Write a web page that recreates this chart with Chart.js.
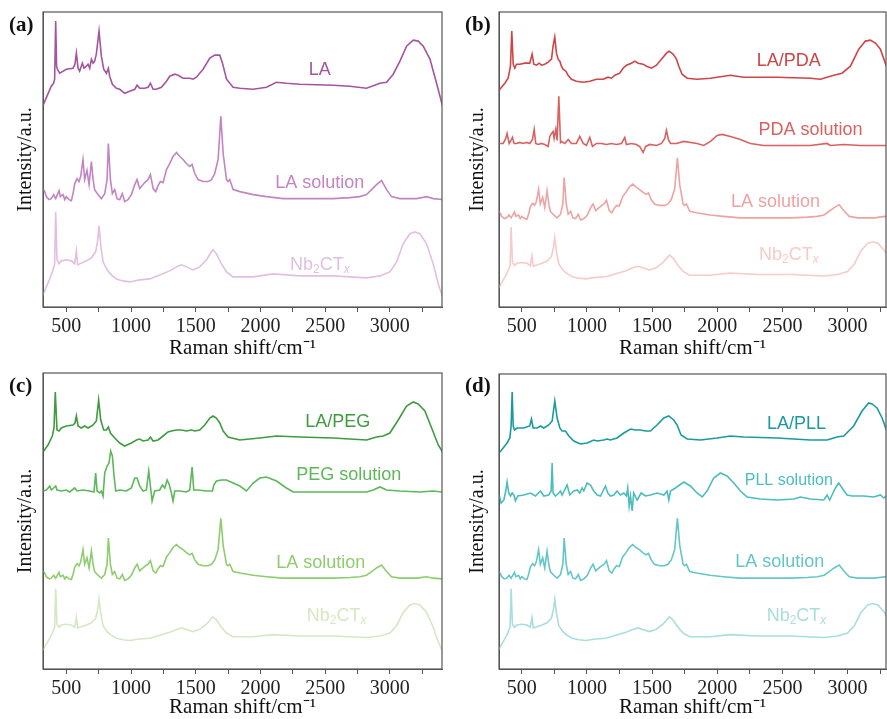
<!DOCTYPE html>
<html>
<head>
<meta charset="utf-8">
<title>Raman spectra</title>
<script src="https://cdn.jsdelivr.net/npm/chart.js@4.4.0/dist/chart.umd.min.js"></script>
<style>
  body { margin: 0; background: #fff; width: 887px; height: 719px; overflow: hidden; position: relative; }
  canvas { position: absolute; }
  .tag { position: absolute; font: bold 21px "Liberation Serif", "Times New Roman", serif; color: #111; }
</style>
</head>
<body>
<canvas id="pa" width="444" height="360" style="left:0;top:0"></canvas>
<canvas id="pb" width="443" height="360" style="left:444px;top:0"></canvas>
<canvas id="pc" width="444" height="359" style="left:0;top:360px"></canvas>
<canvas id="pd" width="443" height="359" style="left:444px;top:360px"></canvas>
<div class="tag" style="left:9px;top:12px">(a)</div>
<div class="tag" style="left:465px;top:12px">(b)</div>
<div class="tag" style="left:9px;top:373px">(c)</div>
<div class="tag" style="left:465px;top:373px">(d)</div>
<script>
// x axis ticks (Raman shift, cm-1); only multiples of 500 get a label
const tickValues = [500, 750, 1000, 1250, 1500, 1750, 2000, 2250, 2500, 2750, 3000, 3250];

// spectra: [Raman shift, intensity (a.u.)]
const LA = [[320,201],[384,220],[402,223],[410,227],[418,285],[425,240],[431,237],[449,233],[500,237],[552,238],[567,242],[578,253],[591,238],[603,235],[624,243],[637,238],[655,240],[668,242],[681,238],[694,247],[707,243],[719,245],[732,252],[753,275],[771,250],[789,237],[810,233],[825,238],[835,230],[856,222],[887,218],[913,217],[951,213],[990,215],[1029,217],[1047,221],[1067,218],[1106,218],[1132,219],[1150,223],[1171,217],[1196,217],[1235,219],[1274,225],[1299,230],[1338,232],[1364,231],[1402,228],[1454,228],[1480,227],[1505,229],[1557,237],[1609,248],[1647,251],[1686,251],[1707,243],[1738,227],[1789,219],[1841,218],[1944,217],[2047,219],[2124,224],[2201,223],[2305,222],[2562,221],[2691,220],[2820,218],[2923,223],[2975,224],[3026,232],[3078,245],[3129,260],[3181,266],[3219,265],[3258,260],[3310,247],[3361,223],[3408,200]];

const LA_SOL = [[320,118],[333,115],[346,110],[366,107],[384,108],[402,112],[418,108],[444,116],[454,110],[475,112],[488,107],[500,110],[521,107],[539,106],[552,113],[565,123],[583,128],[598,125],[611,130],[629,147],[642,127],[660,136],[676,122],[694,145],[707,127],[719,117],[745,112],[771,108],[797,113],[815,127],[825,163],[841,127],[856,113],[874,117],[892,108],[913,107],[933,113],[951,105],[977,107],[1003,112],[1029,122],[1047,127],[1067,118],[1093,122],[1114,125],[1132,127],[1150,132],[1171,118],[1191,115],[1209,121],[1227,125],[1248,124],[1274,137],[1299,143],[1325,150],[1351,154],[1377,150],[1402,147],[1428,143],[1454,140],[1472,142],[1493,133],[1518,127],[1557,125],[1596,125],[1622,127],[1647,133],[1673,147],[1694,190],[1712,153],[1738,127],[1750,125],[1763,127],[1789,117],[1841,115],[1944,112],[2047,110],[2176,108],[2305,108],[2562,108],[2691,109],[2768,110],[2820,112],[2859,117],[2897,122],[2936,126],[2975,117],[3013,110],[3078,108],[3207,108],[3284,110],[3335,108],[3408,107]];

const NB2CTX = [[320,12],[346,20],[372,28],[392,35],[410,43],[418,95],[428,47],[444,43],[462,46],[500,47],[539,46],[565,43],[578,56],[588,42],[603,43],[655,46],[694,49],[727,55],[743,67],[753,81],[766,62],[784,45],[815,37],[848,32],[887,28],[939,26],[990,25],[1067,27],[1145,28],[1222,32],[1299,36],[1351,40],[1390,42],[1428,40],[1480,37],[1531,40],[1583,47],[1622,55],[1634,57],[1660,53],[1699,43],[1738,35],[1789,30],[1944,30],[2098,33],[2305,31],[2562,31],[2820,29],[2923,31],[3000,35],[3052,45],[3103,63],[3155,73],[3194,75],[3232,73],[3284,63],[3335,43],[3374,23],[3408,10]];

const LA_PDA = [[326,216],[344,219],[370,223],[395,228],[413,240],[423,275],[434,242],[446,238],[459,242],[485,242],[523,243],[561,243],[579,252],[592,242],[613,241],[633,243],[651,241],[676,242],[702,244],[728,247],[740,260],[753,269],[766,253],[779,247],[792,245],[804,240],[817,237],[838,235],[855,231],[881,227],[919,225],[971,224],[1022,225],[1073,227],[1124,227],[1162,229],[1188,228],[1214,231],[1252,233],[1277,238],[1303,241],[1341,243],[1367,245],[1393,243],[1431,242],[1457,240],[1495,238],[1533,241],[1572,247],[1610,253],[1630,255],[1661,252],[1687,247],[1705,240],[1730,232],[1769,228],[1845,227],[1948,228],[2101,231],[2203,229],[2459,229],[2715,228],[2792,227],[2894,231],[2958,233],[3022,240],[3086,257],[3137,265],[3175,266],[3214,263],[3252,257],[3298,240]];

const PDA_SOL = [[326,163],[357,163],[377,168],[387,173],[403,163],[421,167],[428,169],[441,163],[459,163],[485,164],[510,163],[536,164],[561,163],[582,167],[595,177],[607,163],[625,162],[651,163],[676,162],[702,160],[715,170],[728,173],[740,175],[748,168],[761,177],[771,166],[784,210],[797,164],[804,165],[830,163],[856,167],[881,163],[919,163],[945,170],[971,163],[996,161],[1022,169],[1042,160],[1073,163],[1111,163],[1150,162],[1188,163],[1226,162],[1265,163],[1290,169],[1303,162],[1341,163],[1380,162],[1405,160],[1431,154],[1451,160],[1482,162],[1533,161],[1572,163],[1597,168],[1610,176],[1625,167],[1641,163],[1687,163],[1743,165],[1845,163],[1896,161],[1948,165],[1999,171],[2037,172],[2101,170],[2178,167],[2254,163],[2357,161],[2459,161],[2715,161],[2843,163],[2868,161],[2971,162],[3098,161],[3298,161]];

const LA_PEG = [[320,217],[359,224],[392,233],[405,241],[415,277],[428,239],[444,238],[462,241],[500,243],[552,244],[567,246],[578,253],[591,243],[616,241],[642,243],[668,241],[694,243],[707,244],[732,248],[750,269],[766,249],[789,239],[810,239],[825,242],[841,236],[874,231],[913,226],[951,223],[1003,226],[1042,229],[1067,230],[1093,228],[1132,229],[1150,232],[1171,228],[1209,229],[1248,233],[1286,237],[1312,238],[1351,239],[1390,239],[1428,238],[1467,239],[1493,238],[1531,239],[1570,244],[1609,251],[1634,253],[1660,251],[1686,246],[1712,238],[1750,232],[1841,229],[1995,231],[2124,233],[2305,232],[2562,231],[2820,229],[2897,232],[2949,233],[3000,236],[3065,249],[3129,263],[3181,267],[3219,265],[3271,258],[3323,241],[3374,224],[3408,217]];

const PEG_SOL = [[320,178],[346,179],[372,183],[384,179],[402,181],[418,183],[428,179],[462,178],[500,179],[526,177],[565,181],[583,178],[629,179],[681,178],[714,177],[727,196],[738,178],[758,176],[771,178],[784,173],[797,196],[815,203],[830,206],[843,218],[856,213],[869,193],[882,178],[913,179],[964,178],[1003,181],[1029,191],[1047,191],[1067,183],[1093,178],[1119,179],[1137,198],[1150,183],[1163,168],[1183,178],[1222,179],[1243,184],[1261,181],[1279,189],[1294,185],[1312,176],[1325,168],[1338,178],[1377,178],[1428,177],[1454,179],[1472,202],[1485,179],[1518,179],[1583,178],[1629,178],[1640,184],[1660,188],[1699,189],[1738,189],[1789,186],[1841,183],[1892,178],[1944,186],[1995,191],[2047,192],[2124,188],[2201,181],[2253,177],[2356,177],[2562,177],[2820,177],[2872,179],[2923,182],[2975,179],[3078,178],[3232,177],[3335,178],[3408,177]];

const LA_PLL = [[326,216],[357,221],[387,226],[408,231],[418,243],[426,277],[434,243],[444,239],[464,241],[515,241],[561,243],[574,250],[587,241],[618,241],[643,243],[669,241],[707,244],[733,248],[753,268],[771,251],[792,241],[809,238],[835,238],[861,233],[899,228],[950,225],[1001,226],[1052,229],[1078,228],[1129,229],[1155,230],[1180,229],[1231,231],[1283,236],[1334,240],[1372,239],[1410,239],[1449,238],[1487,238],[1538,244],[1590,251],[1628,253],[1666,249],[1692,244],[1722,234],[1769,230],[1871,229],[1999,231],[2101,233],[2203,232],[2459,231],[2715,229],[2843,229],[2919,232],[2971,233],[3047,243],[3111,258],[3162,266],[3188,265],[3226,261],[3265,251],[3298,239]];

const PLL_SOL = [[326,174],[341,166],[362,169],[377,178],[387,187],[400,176],[413,173],[426,176],[439,174],[451,168],[469,173],[515,174],[566,176],[605,173],[643,178],[669,173],[707,174],[725,178],[733,206],[740,176],[758,173],[784,176],[797,178],[809,174],[848,184],[868,174],[899,178],[925,179],[945,176],[963,181],[976,178],[1001,186],[1027,184],[1052,178],[1078,174],[1104,173],[1142,183],[1160,176],[1180,173],[1206,174],[1231,178],[1257,174],[1283,176],[1303,173],[1313,181],[1324,163],[1334,173],[1347,158],[1359,176],[1385,169],[1416,176],[1449,173],[1487,174],[1538,176],[1590,174],[1615,178],[1628,169],[1641,178],[1679,181],[1743,187],[1794,183],[1845,176],[1884,172],[1922,178],[1973,191],[2024,196],[2075,193],[2127,186],[2178,178],[2229,172],[2331,170],[2459,169],[2587,170],[2638,172],[2715,170],[2817,169],[2843,174],[2863,169],[2881,174],[2907,181],[2932,186],[2958,181],[2996,174],[3035,173],[3124,173],[3201,172],[3252,174],[3278,171],[3298,173]];

// one entry per panel; k/off stack a spectrum inside its panel
const panels = [
  { id: 'pa', xMin: 320, xMax: 3403, yMax: 294, yW: 43, padTop: 12, padRight: 2, xH: 53, yTitlePad: 14,
    series: [
      { name: 'LA', data: LA, color: '#a3559f', k: 1, off: 0, at: [2459, 236] },
      { name: 'LA solution', data: LA_SOL, color: '#c384c3', k: 1, off: 0, at: [2459, 124] },
      { name: 'Nb2CTx', data: NB2CTX, color: '#e2bfe2', k: 1, off: 0, at: [2459, 42] }
    ] },
  { id: 'pb', xMin: 325, xMax: 3295, yMax: 294, yW: 55, padTop: 12, padRight: 1, xH: 53, yTitlePad: 22,
    series: [
      { name: 'LA/PDA', data: LA_PDA, color: '#cf4446', k: 1, off: 0, at: [2549, 245] },
      { name: 'PDA solution', data: PDA_SOL, color: '#d96261', k: 1, off: 0, at: [2716, 176] },
      { name: 'LA solution', data: LA_SOL, color: '#eea3a3', k: 0.73, off: 10, at: [2447, 105] },
      { name: 'Nb2CTx', data: NB2CTX, color: '#f6cbca', k: 0.74, off: 9.5, at: [2549, 52] }
    ] },
  { id: 'pc', xMin: 320, xMax: 3403, yMax: 296, yW: 43, padTop: 13, padRight: 2, xH: 50, yTitlePad: 14,
    series: [
      { name: 'LA/PEG', data: LA_PEG, color: '#3f9b3f', k: 1, off: 0, at: [2597, 247] },
      { name: 'PEG solution', data: PEG_SOL, color: '#5cb85a', k: 1, off: 0, at: [2682, 194] },
      { name: 'LA solution', data: LA_SOL, color: '#8dcd6d', k: 0.73, off: 12, at: [2466, 106] },
      { name: 'Nb2CTx', data: NB2CTX, color: '#d5e8c3', k: 0.74, off: 10, at: [2589, 53] }
    ] },
  { id: 'pd', xMin: 325, xMax: 3295, yMax: 295, yW: 55, padTop: 14, padRight: 1, xH: 50, yTitlePad: 22,
    series: [
      { name: 'LA/PLL', data: LA_PLL, color: '#1b9a9d', k: 1, off: 0, at: [2608, 245] },
      { name: 'PLL solution', data: PLL_SOL, color: '#4cbdbd', k: 1, off: 0, at: [2549, 188], size: 16 },
      { name: 'LA solution', data: LA_SOL, color: '#64c6c6', k: 0.73, off: 12, at: [2480, 107] },
      { name: 'Nb2CTx', data: NB2CTX, color: '#aadddd', k: 0.74, off: 10, at: [2608, 53] }
    ] }
];

const SANS = '"Liberation Sans", Arial, sans-serif';
const SERIF = '"Liberation Serif", "Times New Roman", serif';

// Nb2CTx with subscripts, centred on (cx, cy)
function drawNb(ctx, cx, cy, size, color) {
  const sm = Math.round(size * 0.65);
  const parts = [
    ['Nb', size + 'px ' + SANS, 0],
    ['2', sm + 'px ' + SANS, 5],
    ['CT', size + 'px ' + SANS, 0],
    ['x', 'italic ' + sm + 'px ' + SANS, 5]
  ];
  let total = 0;
  parts.forEach(p => { ctx.font = p[1]; total += ctx.measureText(p[0]).width; });
  let x = cx - total / 2;
  ctx.fillStyle = color;
  ctx.textAlign = 'left';
  ctx.textBaseline = 'middle';
  parts.forEach(p => {
    ctx.font = p[1];
    ctx.fillText(p[0], x, cy + p[2]);
    x += ctx.measureText(p[0]).width;
  });
}

panels.forEach(function(p) {
  const datasets = p.series.map(s => ({
    label: s.name,
    data: s.data.map(pt => ({ x: pt[0], y: s.off + s.k * pt[1] })),
    borderColor: s.color,
    borderWidth: 1.6,
    pointRadius: 0,
    fill: false,
    tension: 0
  }));

  // curve names and the plot frame
  const decor = {
    id: 'decor',
    afterDatasetsDraw(chart) {
      const ctx = chart.ctx;
      const xs = chart.scales.x, ys = chart.scales.y;
      ctx.save();
      p.series.forEach(s => {
        const cx = xs.getPixelForValue(s.at[0]);
        const cy = ys.getPixelForValue(s.at[1]);
        const size = s.size || 18;
        if (s.name === 'Nb2CTx') {
          drawNb(ctx, cx, cy, size, s.color);
        } else {
          ctx.font = size + 'px ' + SANS;
          ctx.fillStyle = s.color;
          ctx.textAlign = 'center';
          ctx.textBaseline = 'middle';
          ctx.fillText(s.name, cx, cy);
        }
      });
      const a = chart.chartArea;
      ctx.strokeStyle = '#555';
      ctx.lineWidth = 1.2;
      ctx.strokeRect(a.left, a.top, a.right - a.left, a.bottom - a.top);
      ctx.restore();
    }
  };

  new Chart(document.getElementById(p.id), {
    type: 'line',
    data: { datasets: datasets },
    options: {
      responsive: false,
      animation: false,
      devicePixelRatio: 1,
      layout: { padding: { top: p.padTop, right: p.padRight, bottom: 0, left: 0 } },
      plugins: { legend: { display: false }, tooltip: { enabled: false } },
      scales: {
        x: {
          type: 'linear',
          min: p.xMin,
          max: p.xMax,
          afterBuildTicks: sc => { sc.ticks = tickValues.map(v => ({ value: v })); },
          afterFit: sc => { sc.height = p.xH; },
          ticks: {
            autoSkip: false,
            maxRotation: 0,
            padding: 3,
            color: '#222',
            font: { family: SERIF, size: 20 },
            callback: v => (v % 500 === 0 ? String(v) : '')
          },
          grid: { drawOnChartArea: false, drawTicks: true, tickLength: 5, color: '#555' },
          border: { display: true, color: '#555' },
          title: {
            display: true,
            text: 'Raman shift/cm\u207B\u00B9',
            color: '#111',
            font: { family: SERIF, size: 21, lineHeight: 1.1 },
            padding: { top: 0, bottom: 0 }
          }
        },
        y: {
          type: 'linear',
          min: 0,
          max: p.yMax,
          afterFit: sc => { sc.width = p.yW; },
          ticks: { display: false },
          grid: { drawOnChartArea: false, drawTicks: false },
          border: { display: true, color: '#555' },
          title: {
            display: true,
            text: 'Intensity/a.u.',
            color: '#111',
            font: { family: SERIF, size: 20 },
            padding: { top: p.yTitlePad, bottom: 0 }
          }
        }
      }
    },
    plugins: [decor]
  });
});
</script>
</body>
</html>
